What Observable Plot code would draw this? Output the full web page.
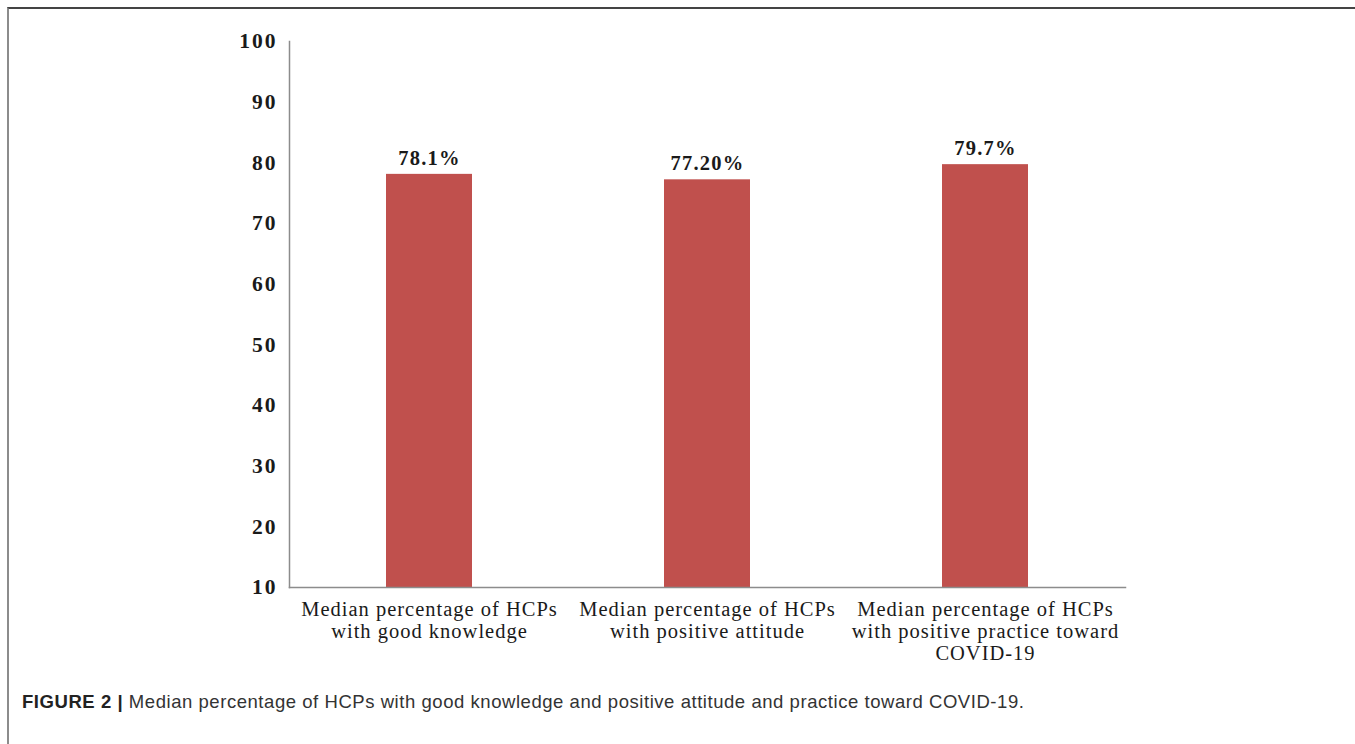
<!DOCTYPE html>
<html>
<head>
<meta charset="utf-8">
<script src="https://cdn.jsdelivr.net/npm/d3@7"></script>
<script src="https://cdn.jsdelivr.net/npm/@observablehq/plot@0.6"></script>
<style>
  html, body { margin: 0; padding: 0; background: #fff; }
  #wrap { position: relative; width: 1355px; height: 744px; overflow: hidden; background: #fff; }
  #border { position: absolute; left: 7px; top: 7px; right: 0; bottom: 0;
            border-top: 2px solid #444; border-left: 2px solid #8c8c8c; }
  #chart { position: absolute; left: 0; top: 0; }
  #caption { position: absolute; left: 22px; top: 691px; font-family: "Liberation Sans", Arial, sans-serif;
             font-size: 18.5px; letter-spacing: 0.55px; color: #333; white-space: nowrap; }
  #caption b { color: #222; }
  #chart g[aria-label="y-axis tick label"] text { letter-spacing: 2px; }
  #chart g[aria-label="x-axis tick label"] text { letter-spacing: 1px; }
  #chart g[aria-label="text"] text { letter-spacing: 1.2px; }
</style>
</head>
<body>
<div id="wrap">
  <div id="border"></div>
  <div id="chart"></div>
  <div id="caption"><b>FIGURE 2 |</b> Median percentage of HCPs with good knowledge and positive attitude and practice toward COVID-19.</div>
</div>
<script>
const categories = ["knowledge", "attitude", "practice"];
const values = [78.1, 77.2, 79.7];
const valueLabels = ["78.1%", "77.20%", "79.7%"];
const tickLabels = [
  "Median percentage of HCPs\nwith good knowledge",
  "Median percentage of HCPs\nwith positive attitude",
  "Median percentage of HCPs\nwith positive practice toward\nCOVID-19"
];
const yTicks = [10, 20, 30, 40, 50, 60, 70, 80, 90, 100];

const data = categories.map((c, i) => ({cat: c, value: values[i], label: valueLabels[i]}));
const labelOf = new Map(categories.map((c, i) => [c, tickLabels[i]]));
const base = 10;

const plot = Plot.plot({
  width: 1355,
  height: 660,
  marginLeft: 289,
  marginRight: 230,
  marginTop: 41,
  marginBottom: 73,
  style: { fontFamily: "'Liberation Serif', 'Times New Roman', serif", background: "transparent", overflow: "visible" },
  x: { domain: categories, paddingInner: 0.69, paddingOuter: 0.345, label: null },
  y: { domain: [10, 100], label: null },
  marks: [
    Plot.barY(data, { x: "cat", y1: base, y2: "value", fill: "#C0504D" }),
    Plot.text(data, { x: "cat", y: "value", text: "label", dy: -16, fontSize: 20.5, fontWeight: "bold", fill: "#1a1a1a" }),
    Plot.frame({ anchor: "left", stroke: "#8c8c8c", strokeWidth: 1.5 }),
    Plot.frame({ anchor: "bottom", stroke: "#8c8c8c", strokeWidth: 1.5 }),
    Plot.axisY({ ticks: yTicks, tickSize: 0, tickPadding: 12, fontSize: 21.5, fontWeight: "bold", fill: "#1a1a1a", label: null }),
    Plot.axisX({ tickSize: 0, tickPadding: 13, fontSize: 20.5, fill: "#1a1a1a", label: null,
                 tickFormat: d => labelOf.get(d), lineHeight: 1.07 })
  ]
});
document.getElementById("chart").appendChild(plot);
</script>
</body>
</html>
